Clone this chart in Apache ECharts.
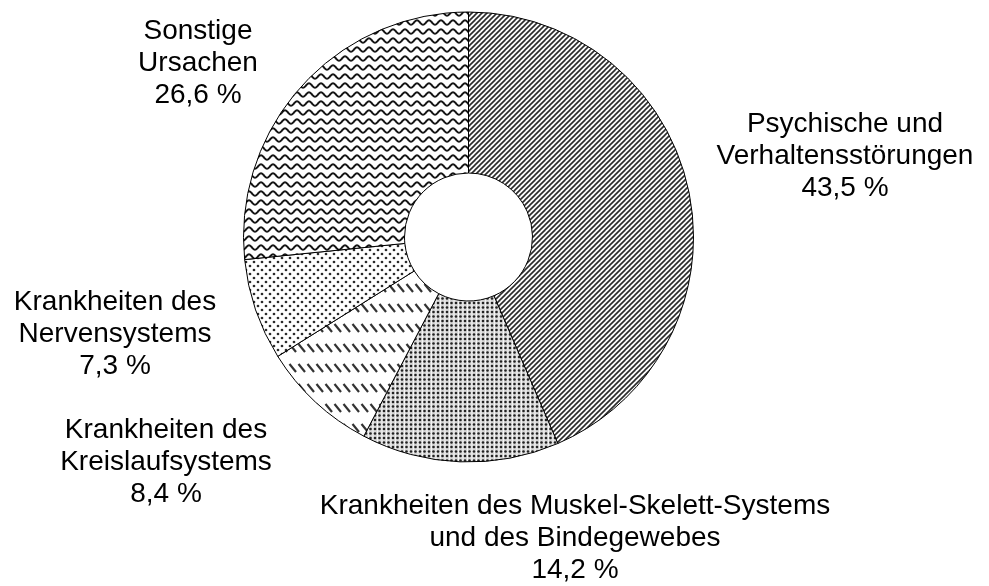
<!DOCTYPE html>
<html>
<head>
<meta charset="utf-8">
<script src="https://cdn.jsdelivr.net/npm/echarts@6/dist/echarts.min.js"></script>
<style>
  html, body { margin: 0; padding: 0; background: #fff; }
  #chart { width: 989px; height: 586px; }
</style>
</head>
<body>
<div id="chart"></div>
<script>
const categories = [
  'Psychische und\nVerhaltensstörungen',
  'Krankheiten des Muskel-Skelett-Systems\nund des Bindegewebes',
  'Krankheiten des\nKreislaufsystems',
  'Krankheiten des\nNervensystems',
  'Sonstige\nUrsachen'
];
const shares = [43.5, 14.2, 8.4, 7.3, 26.6];

// where each label block sits (centre of the text)
const labelPos = [[845, 156], [575, 538], [166, 462], [115, 334], [198, 63]];

function tile(w, h, draw) {
  const c = document.createElement('canvas');
  c.width = w;
  c.height = h;
  const ctx = c.getContext('2d');
  ctx.fillStyle = '#fff';
  ctx.fillRect(0, 0, w, h);
  draw(ctx, w, h);
  return c;
}

function dot(ctx, x, y, r, col) {
  ctx.fillStyle = col;
  ctx.beginPath();
  ctx.arc(x, y, r, 0, Math.PI * 2);
  ctx.fill();
}

// diagonal "/" hatch
const hatch = tile(5, 5, function (ctx, w, h) {
  ctx.strokeStyle = '#2a2a2a';
  ctx.lineWidth = 1.6;
  for (let k = -1; k <= 1; k++) {
    ctx.beginPath();
    ctx.moveTo(k * w - 1, h + 1);
    ctx.lineTo(k * w + h + 1, -1);
    ctx.stroke();
  }
});

// dense dot grid
const denseDots = tile(9, 9, function (ctx) {
  ctx.fillStyle = '#d6d6d6';
  ctx.fillRect(0, 0, 9, 9);
  ctx.fillStyle = '#f4f4f4';
  ctx.fillRect(3.5, 0, 1, 9);
  ctx.fillRect(8, 0, 1, 9);
  [[1.5, 1.5], [6, 1.5], [1.5, 6], [6, 6]].forEach(function (p) {
    dot(ctx, p[0], p[1], 1.3, '#222');
  });
});

// short "\" dashes in rows
const dashes = tile(9, 20, function (ctx) {
  ctx.strokeStyle = '#333';
  ctx.lineWidth = 2.2;
  ctx.beginPath();
  ctx.moveTo(1.5, 4);
  ctx.lineTo(8, 12);
  ctx.stroke();
});

// sparse staggered dots
const sparseDots = tile(8, 8, function (ctx) {
  dot(ctx, 2, 2, 1.35, '#2a2a2a');
  dot(ctx, 6, 6, 1.35, '#2a2a2a');
});

// waves
const waves = tile(12, 9, function (ctx) {
  ctx.strokeStyle = '#161616';
  ctx.lineWidth = 2;
  ctx.beginPath();
  for (let x = -1; x <= 13; x += 0.5) {
    const y = 4.5 + 2.2 * Math.sin(2 * Math.PI * x / 12);
    if (x === -1) ctx.moveTo(x, y); else ctx.lineTo(x, y);
  }
  ctx.stroke();
});

const fills = [hatch, denseDots, dashes, sparseDots, waves];

const chart = echarts.init(document.getElementById('chart'), null, { renderer: 'canvas' });

chart.setOption({
  animation: false,
  backgroundColor: '#fff',
  series: [{
    type: 'pie',
    center: [468.5, 237],
    radius: [64, 225],
    startAngle: 90,
    clockwise: true,
    silent: true,
    data: categories.map(function (name, i) {
      return {
        name: name,
        value: shares[i],
        itemStyle: { color: { image: fills[i], repeat: 'repeat' } }
      };
    }),
    itemStyle: { borderColor: '#000', borderWidth: 1 },
    label: {
      show: true,
      position: 'outside',
      overflow: 'none',
      color: '#000',
      fontFamily: 'Liberation Sans, Arial, sans-serif',
      fontSize: 28,
      lineHeight: 32,
      align: 'center',
      formatter: function (p) {
        return p.name + '\n' + p.value.toFixed(1).replace('.', ',') + ' %';
      }
    },
    labelLine: { show: false },
    labelLayout: function (p) {
      const pos = labelPos[p.dataIndex];
      return { x: pos[0], y: pos[1], align: 'center', verticalAlign: 'middle' };
    }
  }]
});
</script>
</body>
</html>
